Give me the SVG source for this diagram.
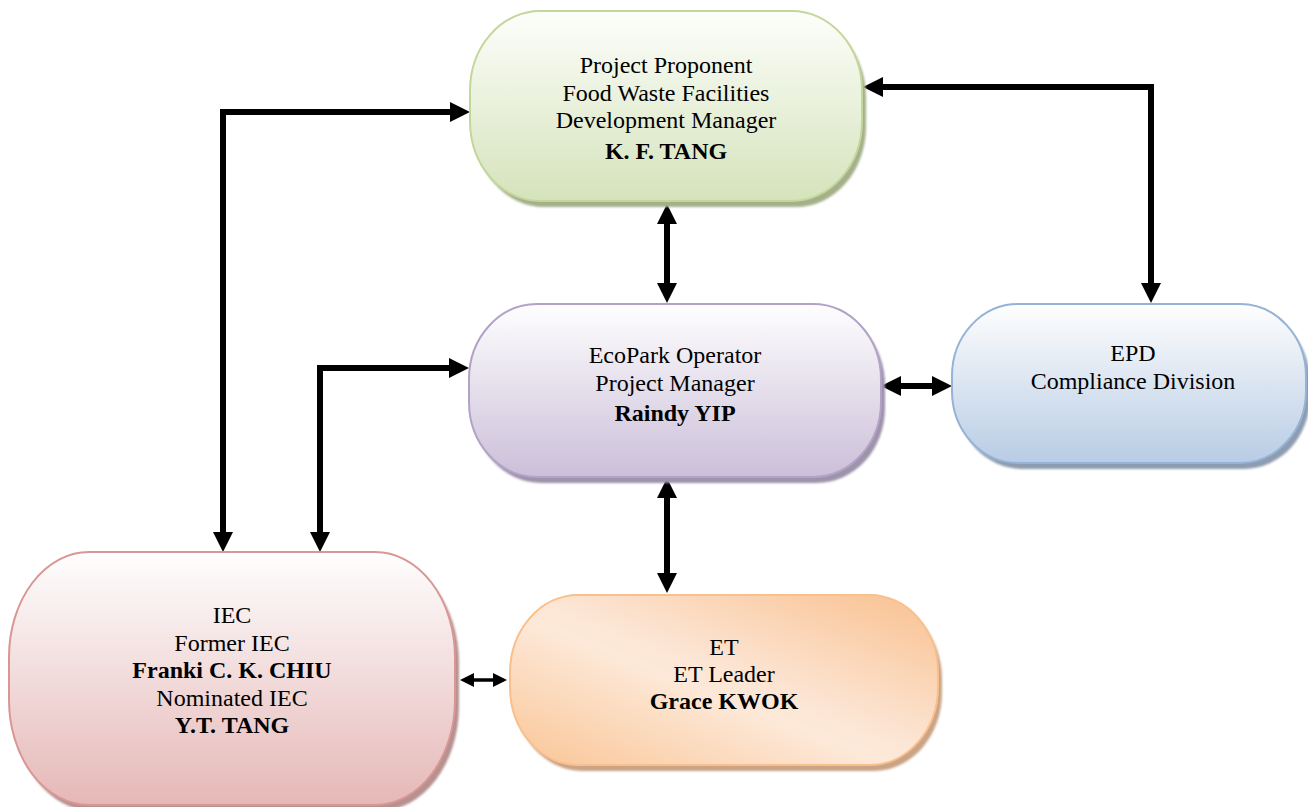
<svg xmlns="http://www.w3.org/2000/svg" width="1308" height="807" viewBox="0 0 1308 807">
<style>
text{font-family:"Liberation Serif","Times New Roman",serif;font-size:24px;fill:#000;text-anchor:middle}
.b{font-weight:bold}
.conn{fill:none;stroke:#000;stroke-width:6;stroke-linejoin:miter}
.thin{fill:none;stroke:#000;stroke-width:3.5}
.sh{filter:url(#blur)}
</style>
<defs>
<filter id="blur" x="-5%" y="-5%" width="110%" height="110%"><feGaussianBlur stdDeviation="1.2"/></filter>
<linearGradient id="gGreen" x1="0" y1="0" x2="0" y2="1"><stop offset="0" stop-color="#fdfefb"/><stop offset="1" stop-color="#d5e3bb"/></linearGradient>
<linearGradient id="gPurple" x1="0" y1="0" x2="0" y2="1"><stop offset="0" stop-color="#fefefe"/><stop offset="1" stop-color="#cbbfd9"/></linearGradient>
<linearGradient id="gBlue" x1="0" y1="0" x2="0" y2="1"><stop offset="0" stop-color="#fefefe"/><stop offset="1" stop-color="#b8cce4"/></linearGradient>
<linearGradient id="gRed" x1="0" y1="0" x2="0" y2="1"><stop offset="0" stop-color="#fefefe"/><stop offset="1" stop-color="#e5b8b7"/></linearGradient>
<linearGradient id="gOrange" x1="0" y1="1" x2="1" y2="0"><stop offset="0" stop-color="#fac596"/><stop offset="0.45" stop-color="#fde9d9"/><stop offset="0.55" stop-color="#fce4d2"/><stop offset="1" stop-color="#f9c08f"/></linearGradient>
<marker id="arr" viewBox="0 0 20 20" refX="10" refY="10" markerWidth="20" markerHeight="20" markerUnits="userSpaceOnUse" orient="auto-start-reverse"><path d="M0,0 L20,10 L0,20 Z" fill="#000"/></marker>
<marker id="arrS" viewBox="0 0 14 14" refX="7" refY="7" markerWidth="14" markerHeight="14" markerUnits="userSpaceOnUse" orient="auto-start-reverse"><path d="M0,0 L14,7 L0,14 Z" fill="#000"/></marker>
</defs>

<g id="connectors">
<path class="conn" d="M223,542 L223,112 L460,112" marker-start="url(#arr)" marker-end="url(#arr)"/>
<path class="conn" d="M320,542 L320,368 L459,368" marker-start="url(#arr)" marker-end="url(#arr)"/>
<path class="conn" d="M667,214 L667,293" marker-start="url(#arr)" marker-end="url(#arr)"/>
<path class="conn" d="M873,87 L1151,87 L1151,293" marker-start="url(#arr)" marker-end="url(#arr)"/>
<path class="conn" d="M891,386 L942,386" marker-start="url(#arr)" marker-end="url(#arr)"/>
<path class="conn" d="M667,488 L667,583" marker-start="url(#arr)" marker-end="url(#arr)"/>
<path class="thin" d="M467,680 L500,680" marker-start="url(#arrS)" marker-end="url(#arrS)"/>
</g>

<g id="node-proponent">
<rect class="sh" x="474" y="17" width="392" height="190" rx="70" ry="80" fill="#a4b089"/>
<rect x="470" y="11" width="392" height="190" rx="70" ry="80" fill="url(#gGreen)" stroke="#c3d69b" stroke-width="2"/>
<text x="666" y="73">Project Proponent</text>
<text x="666" y="101">Food Waste Facilities</text>
<text x="666" y="128">Development Manager</text>
<text class="b" x="666" y="159">K. F. TANG</text>
</g>

<g id="node-ecopark">
<rect class="sh" x="473" y="310" width="412" height="173" rx="68" ry="75" fill="#9d93aa"/>
<rect x="469" y="304" width="412" height="173" rx="68" ry="75" fill="url(#gPurple)" stroke="#b3a2c7" stroke-width="2"/>
<text x="675" y="363">EcoPark Operator</text>
<text x="675" y="391">Project Manager</text>
<text class="b" x="675" y="421">Raindy YIP</text>
</g>

<g id="node-epd">
<rect class="sh" x="956" y="310" width="354" height="159" rx="66" ry="72" fill="#8e9cb0"/>
<rect x="952" y="304" width="354" height="159" rx="66" ry="72" fill="url(#gBlue)" stroke="#95b3d7" stroke-width="2"/>
<text x="1133" y="361">EPD</text>
<text x="1133" y="389">Compliance Division</text>
</g>

<g id="node-iec">
<rect class="sh" x="13" y="558" width="446" height="253" rx="80" ry="105" fill="#b59190"/>
<rect x="9" y="552" width="446" height="253" rx="80" ry="105" fill="url(#gRed)" stroke="#d99694" stroke-width="2"/>
<text x="232" y="623">IEC</text>
<text x="232" y="651">Former IEC</text>
<text class="b" x="232" y="678">Franki C. K. CHIU</text>
<text x="232" y="706">Nominated IEC</text>
<text class="b" x="232" y="733">Y.T. TANG</text>
</g>

<g id="node-et">
<rect class="sh" x="514" y="601" width="428" height="170" rx="68" ry="78" fill="#c9a486"/>
<rect x="510" y="595" width="428" height="170" rx="68" ry="78" fill="url(#gOrange)" stroke="#f9bf8c" stroke-width="2"/>
<text x="724" y="655">ET</text>
<text x="724" y="682">ET Leader</text>
<text class="b" x="724" y="709">Grace KWOK</text>
</g>
</svg>
